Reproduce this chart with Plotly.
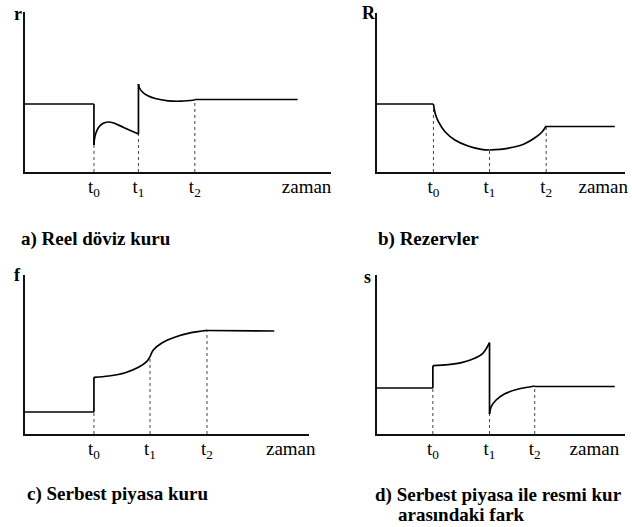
import plotly.graph_objects as go

# ---------------- data (arbitrary units) ----------------
T_LABELS = ["t<sub>0</sub>", "t<sub>1</sub>", "t<sub>2</sub>"]
TIME_LABEL = "zaman"
CAPTIONS = ["a) Reel döviz kuru", "b) Rezervler", "c) Serbest piyasa kuru",
            "d) Serbest piyasa ile resmi kur", "arasındaki fark"]
Y_NAMES = ["r", "R", "f", "s"]

# a) Reel döviz kuru
A_T = [7.0, 11.5, 17.2]
A_PRE_X = [0.0, 7.0]
A_PRE_Y = [6.8, 6.8]
A_C1_X = [7.0, 7.05, 7.2, 7.5, 7.9, 8.4, 9.0, 10.0, 11.5]
A_C1_Y = [2.7, 3.3, 3.9, 4.5, 4.85, 5.0, 4.9, 4.45, 3.8]
A_C2_X = [11.5, 11.6, 11.9, 12.4, 13.2, 14.5, 15.8, 17.2]
A_C2_Y = [8.8, 8.4, 8.0, 7.65, 7.35, 7.12, 7.08, 7.2]
A_POST_X = [17.2, 27.6]
A_POST_Y = [7.25, 7.25]
A_DOT_Y = [2.7, 3.8, 7.2]

# b) Rezervler
B_T = [5.73, 11.4, 17.13]
B_PRE_X = [0.0, 5.73]
B_PRE_Y = [6.8, 6.8]
B_C1_X = [5.73, 5.9, 6.23, 6.9, 7.9, 9.23, 10.57, 11.4]
B_C1_Y = [6.8, 5.87, 5.03, 4.03, 3.2, 2.6, 2.27, 2.2]
B_C2_X = [11.4, 13.23, 14.9, 16.07, 16.73, 17.13]
B_C2_Y = [2.2, 2.37, 2.8, 3.47, 4.03, 4.6]
B_POST_X = [17.13, 24.07]
B_POST_Y = [4.55, 4.55]
B_DOT_Y = [6.8, 2.2, 4.55]

# c) Serbest piyasa kuru
C_T = [7.0, 12.67, 18.43]
C_PRE_X = [0.0, 7.0]
C_PRE_Y = [2.2, 2.2]
C_C1_X = [7.0, 8.5, 10.17, 11.5, 12.33, 12.67]
C_C1_Y = [5.67, 5.8, 6.13, 6.67, 7.23, 7.73]
C_C2_X = [12.67, 13.0, 13.83, 15.17, 16.83, 18.43]
C_C2_Y = [7.73, 8.4, 9.07, 9.67, 10.13, 10.37]
C_POST_X = [18.43, 25.23]
C_POST_Y = [10.35, 10.3]
C_DOT_Y = [2.2, 7.73, 10.37]

# d) Serbest piyasa ile resmi kur arasındaki fark
D_T = [5.67, 11.4, 15.97]
D_PRE_X = [0.0, 5.67]
D_PRE_Y = [4.6, 4.6]
D_C1_X = [5.67, 7.23, 8.57, 9.9, 10.73, 11.4]
D_C1_Y = [6.83, 6.93, 7.13, 7.57, 8.07, 9.13]
D_C2_X = [11.4, 11.57, 12.07, 12.9, 14.23, 15.97]
D_C2_Y = [2.0, 2.73, 3.4, 4.0, 4.47, 4.8]
D_POST_X = [15.97, 24.07]
D_POST_Y = [4.75, 4.75]
D_DOT_Y = [4.6, 9.13, 4.8]

# ---------------- layout geometry ----------------
W, H = 632, 527
FONT = "'Liberation Serif', 'Times New Roman', Times, serif"

panels = [
    dict(pieces=[("lin", A_PRE_X, A_PRE_Y), ("spl", A_C1_X, A_C1_Y),
                 ("spl", A_C2_X, A_C2_Y), ("lin", A_POST_X, A_POST_Y)],
         t=A_T, dot=A_DOT_Y, xmax=31.0, ymax=16.0, zaman=28.5,
         px=(25, 335), py=(12, 172)),
    dict(pieces=[("lin", B_PRE_X, B_PRE_Y), ("spl", B_C1_X, B_C1_Y),
                 ("spl", B_C2_X, B_C2_Y), ("lin", B_POST_X, B_POST_Y)],
         t=B_T, dot=B_DOT_Y, xmax=25.1, ymax=15.9, zaman=22.9,
         px=(381, 632), py=(13, 172)),
    dict(pieces=[("lin", C_PRE_X, C_PRE_Y), ("spl", C_C1_X, C_C1_Y),
                 ("spl", C_C2_X, C_C2_Y), ("lin", C_POST_X, C_POST_Y)],
         t=C_T, dot=C_DOT_Y, xmax=28.7, ymax=15.9, zaman=26.9,
         px=(25, 312), py=(275, 434)),
    dict(pieces=[("lin", D_PRE_X, D_PRE_Y), ("spl", D_C1_X, D_C1_Y),
                 ("spl", D_C2_X, D_C2_Y), ("lin", D_POST_X, D_POST_Y)],
         t=D_T, dot=D_DOT_Y, xmax=25.1, ymax=15.9, zaman=22.0,
         px=(381, 632), py=(275, 434)),
]

fig = go.Figure()
layout_axes = {}

for i, p in enumerate(panels):
    n = "" if i == 0 else str(i + 1)
    xa, ya = "x" + n, "y" + n
    for tv, hv in zip(p["t"], p["dot"]):
        fig.add_trace(go.Scatter(x=[tv, tv], y=[0, hv], mode="lines", xaxis=xa, yaxis=ya,
                                 line=dict(color="#444", width=1, dash="dot"),
                                 hoverinfo="skip", showlegend=False))
    pieces = p["pieces"]
    for k, (kind, xs, ys) in enumerate(pieces):
        fig.add_trace(go.Scatter(x=xs, y=ys, mode="lines", xaxis=xa, yaxis=ya,
                                 line=dict(color="black", width=1.7,
                                           shape="spline" if kind == "spl" else "linear"),
                                 hoverinfo="skip", showlegend=False))
        if k + 1 < len(pieces):
            nx, ny = pieces[k + 1][1][0], pieces[k + 1][2][0]
            if ny != ys[-1]:
                fig.add_trace(go.Scatter(x=[xs[-1], nx], y=[ys[-1], ny], mode="lines",
                                         xaxis=xa, yaxis=ya,
                                         line=dict(color="black", width=1.7),
                                         hoverinfo="skip", showlegend=False))
    x0, x1 = p["px"]
    y0, y1 = p["py"]
    layout_axes["xaxis" + n] = dict(
        domain=[x0 / W, x1 / W], range=[0, p["xmax"]], anchor=ya,
        showline=True, linecolor="#111", linewidth=2, showgrid=False, zeroline=False,
        ticks="", tickvals=p["t"] + [p["zaman"]], ticktext=T_LABELS + [TIME_LABEL],
        ticklabelstandoff=-4,
        tickfont=dict(family=FONT, size=19, color="black"), fixedrange=True)
    layout_axes["yaxis" + n] = dict(
        domain=[1 - y1 / H, 1 - y0 / H], range=[0, p["ymax"]], anchor=xa,
        showline=True, linecolor="#111", linewidth=2, showgrid=False, zeroline=False,
        showticklabels=False, ticks="", fixedrange=True)

annots = []
cap_pos = [(19, 239), (380, 239), (25, 494), (377, 495), (400, 514)]
for txt, (cx, cy) in zip(CAPTIONS, cap_pos):
    annots.append(dict(text="<b>" + txt + "</b>", x=cx / W, y=1 - cy / H, xref="paper",
                       yref="paper", xanchor="left", yanchor="middle", showarrow=False,
                       font=dict(family=FONT, size=19, color="black")))
name_pos = [(18, 14), (373, 13), (18, 275), (372, 277)]
for txt, (cx, cy) in zip(Y_NAMES, name_pos):
    annots.append(dict(text="<b>" + txt + "</b>", x=cx / W, y=1 - cy / H, xref="paper",
                       yref="paper", xanchor="center", yanchor="middle", showarrow=False,
                       font=dict(family=FONT, size=18, color="black")))

fig.update_layout(width=W, height=H, margin=dict(l=0, r=0, t=0, b=0),
                  paper_bgcolor="white", plot_bgcolor="white",
                  annotations=annots, **layout_axes)

fig.write_html("out.html", config={"displayModeBar": False},
               post_script="document.body.style.margin='0';")
